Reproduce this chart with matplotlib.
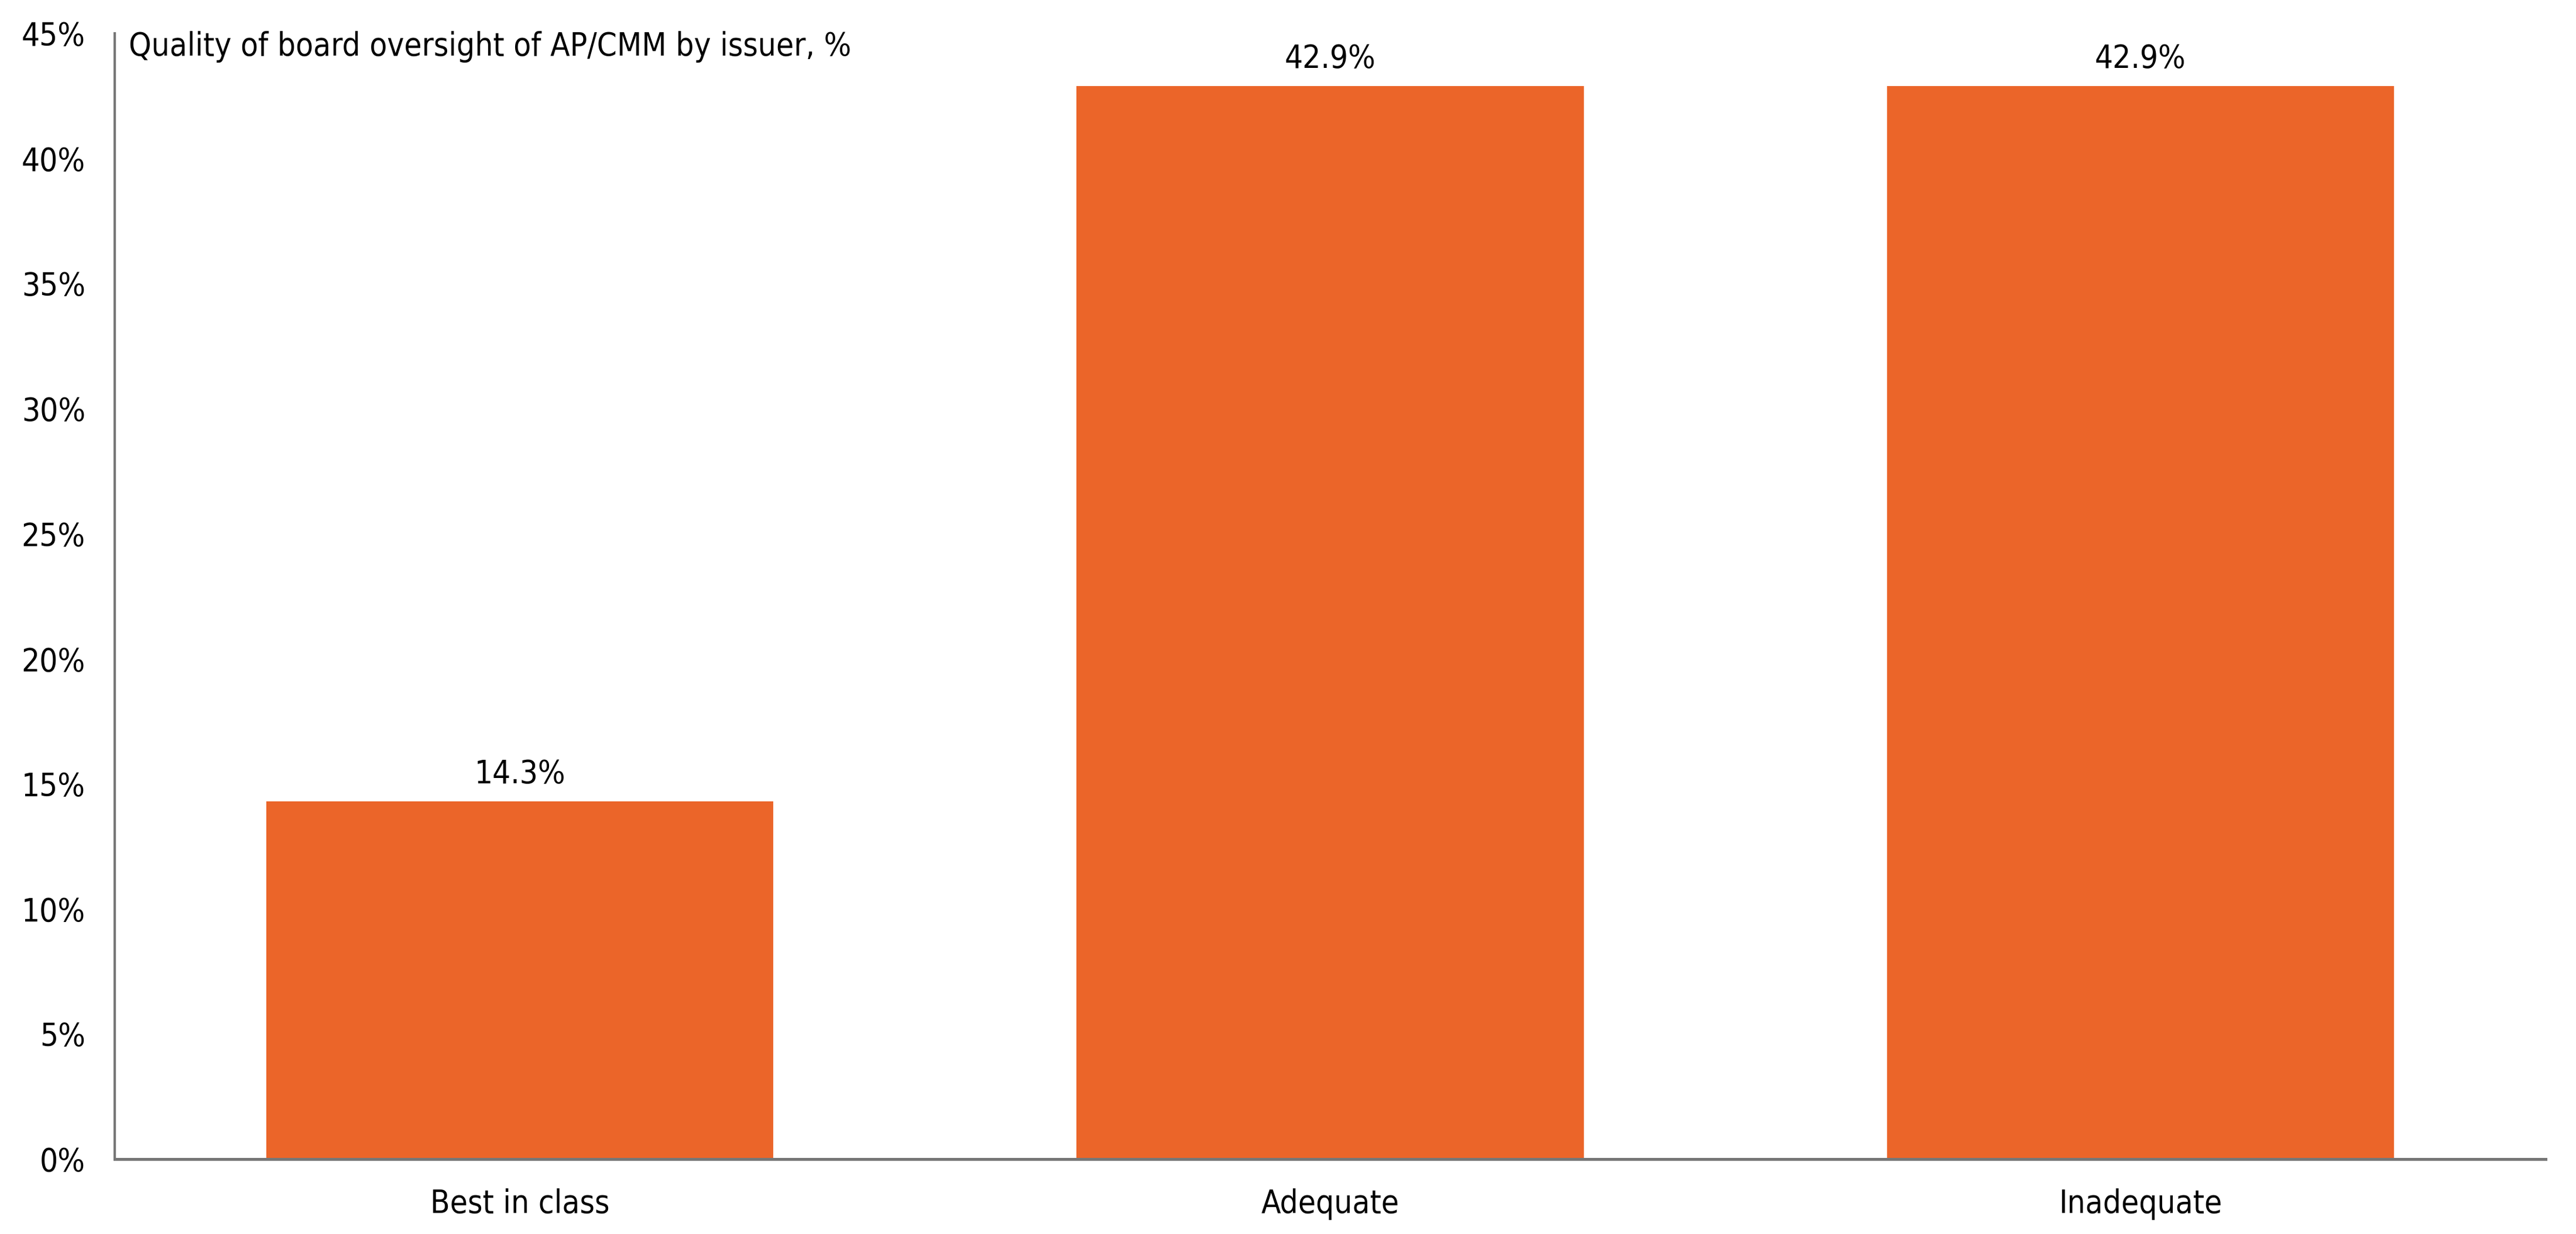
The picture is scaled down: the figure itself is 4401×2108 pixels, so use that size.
import numpy as np
import matplotlib
matplotlib.use('Agg')
import matplotlib.pyplot as plt
from matplotlib.ticker import MultipleLocator, FuncFormatter

# data
categories = ['Best in class', 'Adequate', 'Inadequate']
values = [14.3, 42.9, 42.9]
title = 'Quality of board oversight of AP/CMM by issuer, %'

bar_color = '#EB6529'
axis_color = '#777777'
fsize = 13.1

plt.rcParams['font.family'] = ['DejaVu Sans']
plt.rcParams['font.stretch'] = 'condensed'

fig = plt.figure(figsize=(4401/300, 2108/300), dpi=300)
ax = fig.add_axes([196/4401, 1 - 1980/2108, (4349-196)/4401, (1980-57)/2108])

x = np.arange(len(categories))
bars = ax.bar(x, values, width=0.626, color=bar_color, zorder=2)

for xi, v in zip(x, values):
    ax.annotate(f'{v:.1f}%', (xi, v), xytext=(0, 7.4), textcoords='offset points',
                ha='center', va='baseline', fontsize=fsize)

ax.set_xlim(-0.5, len(categories) - 0.5)
ax.set_ylim(0, 45)
ax.yaxis.set_major_locator(MultipleLocator(5))
ax.yaxis.set_major_formatter(FuncFormatter(lambda v, p: f'{v:.0f}%'))
ax.set_xticks(x)
ax.set_xticklabels(categories)

for s in ['top', 'right']:
    ax.spines[s].set_visible(False)
ax.spines['left'].set_color(axis_color)
ax.spines['left'].set_linewidth(1.0)
ax.spines['bottom'].set_color(axis_color)
ax.spines['bottom'].set_linewidth(1.2)
ax.tick_params(axis='both', length=0, labelsize=fsize)
ax.tick_params(axis='y', pad=12)
ax.tick_params(axis='x', pad=12)

fig.text(220/4401, 1 - 95/2108, title, fontsize=fsize, ha='left', va='baseline')

fig.savefig('out.png', dpi=300, facecolor='white')
